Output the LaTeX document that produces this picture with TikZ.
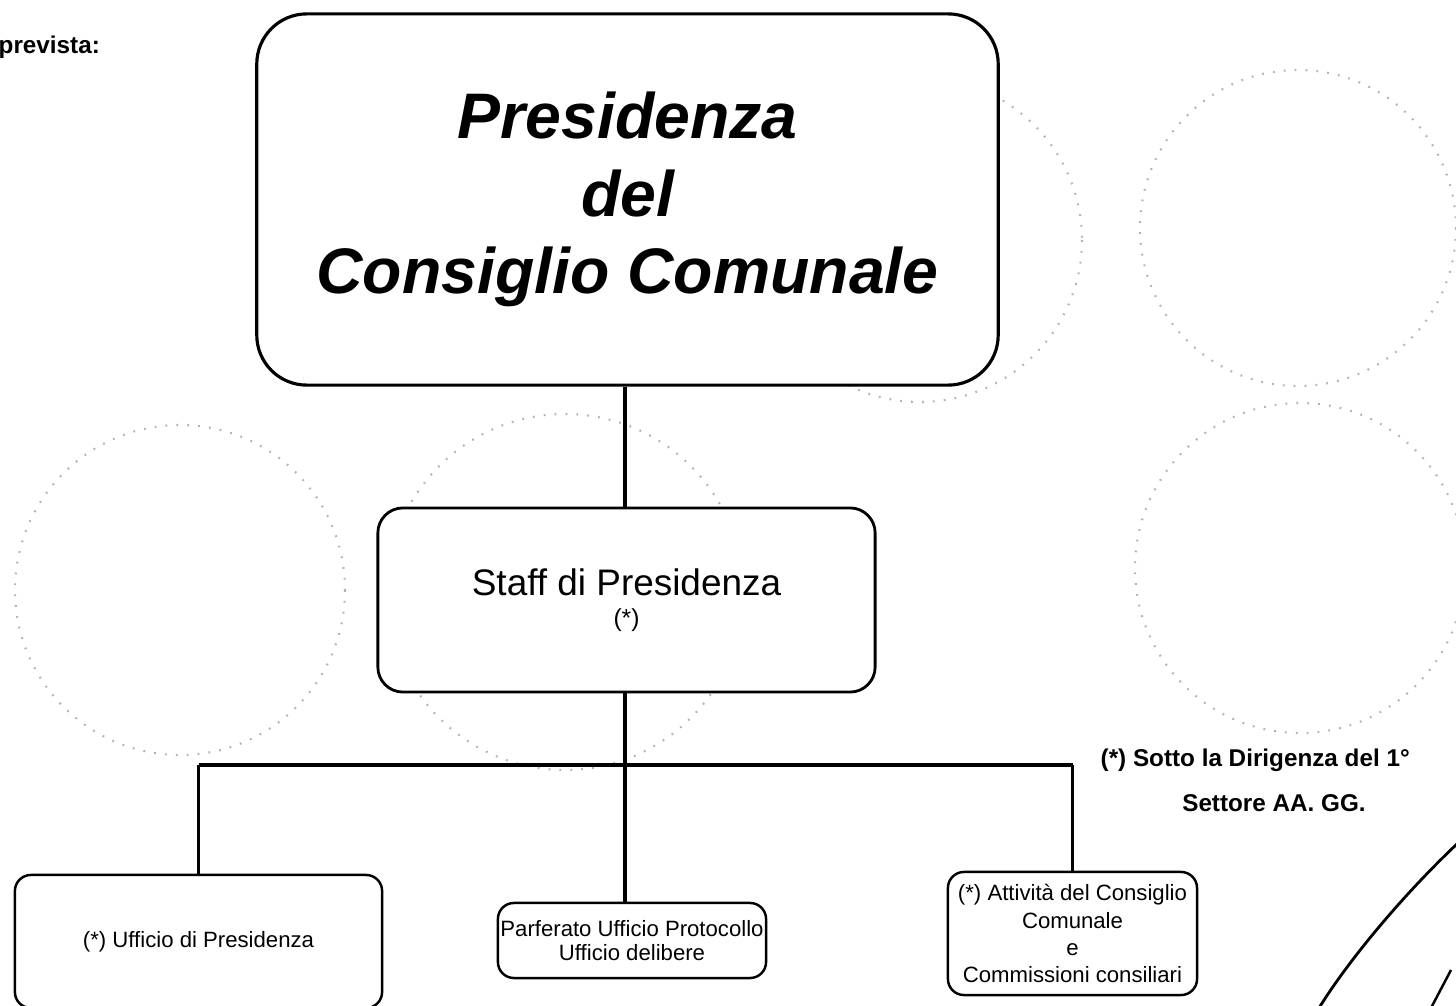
\documentclass[tikz,border=0pt]{standalone}
\usepackage{fontspec}
\setmainfont{Liberation Sans}
\usepackage{tikz}
\usetikzlibrary{calc}
\tikzstyle{mainbox}=[black, draw=black, line width=0.9pt, shape=rectangle, rounded corners=5mm, fill=white, minimum width=7.41cm, minimum height=3.71cm, inner sep=0pt, align=center]
\tikzstyle{staffbox}=[black, draw=black, line width=0.8pt, shape=rectangle, rounded corners=2.5mm, fill=white, minimum width=4.97cm, minimum height=1.84cm, inner sep=0pt, align=center]
\tikzstyle{unitbox}=[black, draw=black, line width=0.7pt, shape=rectangle, rounded corners=1.6mm, fill=white, inner sep=0pt, align=center, font=\fontsize{6.3}{6.6}\selectfont]
\tikzstyle{notetext}=[black, inner sep=0pt, font=\fontsize{6.9}{8}\selectfont\bfseries]
\tikzstyle{bgcircle}=[gray!60, line width=0.6pt, dash pattern=on 0.5pt off 2.6pt]

\begin{document}
\begin{tikzpicture}[x=0.01cm, y=-0.01cm]
\useasboundingbox (0,0) rectangle (1456,1006);

% faint circles of the scan
\draw[bgcircle] (1298,228) circle (158);
\draw[bgcircle] (1300,568) circle (165);
\draw[bgcircle] (180,590) circle (165);
\draw[bgcircle] (920,240) circle (162);
\draw[bgcircle] (565,592) circle (178);

\node [notetext, anchor=west] (prevista) at (-2,47) {prevista:};

\node [mainbox, font=\fontsize{18.3}{22}\selectfont\bfseries\itshape] (presidenza) at (627.5,199.5) {Presidenza\\del\\Consiglio Comunale};
\node [staffbox, font=\fontsize{10.5}{11}\selectfont] (staff) at (626.5,600) {Staff di Presidenza\\[-2pt]{\fontsize{7}{8}\selectfont(*)}};

\node [unitbox, minimum width=3.67cm, minimum height=1.33cm] (ufficio) at (198.5,941.5) {(*) Ufficio di Presidenza};
\node [unitbox, minimum width=2.68cm, minimum height=0.75cm] (protocollo) at (632,940.5) {Parferato Ufficio Protocollo\\Ufficio delibere};
\node [unitbox, minimum width=2.49cm, minimum height=1.23cm, font=\fontsize{6.3}{7.7}\selectfont] (attivita) at (1072.5,933.5) {(*) Attività del Consiglio\\Comunale\\e\\Commissioni consiliari};

\node [notetext, anchor=west] (note) at (1100,760) {(*) Sotto la Dirigenza del 1°};
\node [notetext] (settore) at (1274,803) {Settore AA. GG.};

\coordinate (bus) at (625,765);
\draw[line width=1.2pt, color=black] (presidenza.south -| bus) -- (staff.north -| bus);
\draw[line width=1.2pt, color=black] (staff.south -| bus) -- (bus);
\draw[line width=0.9pt, color=black] (ufficio.north |- bus) -- (attivita.north |- bus);
\draw[line width=0.9pt, color=black] (ufficio.north |- bus) -- (ufficio.north);
\draw[line width=0.9pt, color=black] (bus) -- (protocollo.north -| bus);
\draw[line width=0.9pt, color=black] (attivita.north |- bus) -- (attivita.north);

% cut-off strokes at the lower right
\coordinate (arcstart) at (1458,843);
\coordinate (arcend) at (1319,1008);
\coordinate (tickstart) at (1451,970);
\coordinate (tickend) at (1431,1008);
\draw[line width=0.8pt, color=black] (arcstart) .. controls (1405,893) and (1350,958) .. (arcend);
\draw[line width=0.7pt, color=black] (tickstart) -- (tickend);
\end{tikzpicture}
\end{document}
